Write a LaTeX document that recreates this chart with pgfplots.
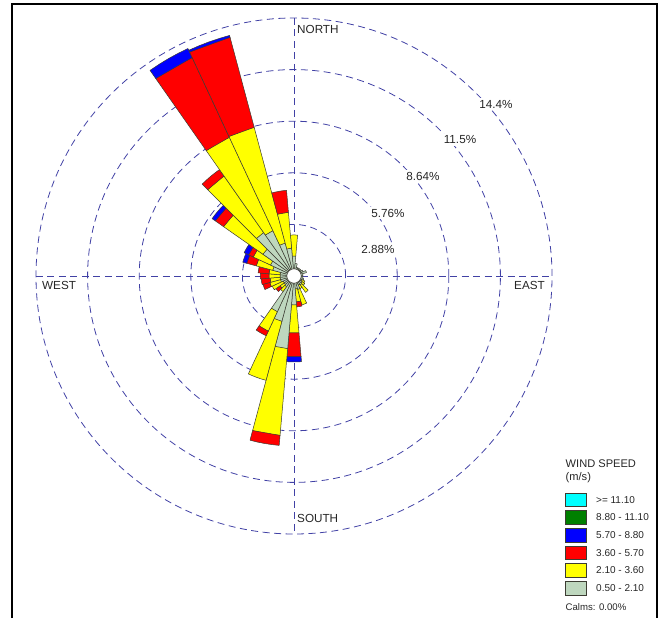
\documentclass[border=0pt]{standalone}
\usepackage{pgfplots}
\pgfplotsset{compat=1.18}
\usepackage{fontspec}
\setmainfont{Liberation Sans}
\definecolor{gridc}{RGB}{65,65,165}
\definecolor{calm}{RGB}{190,215,190}
\definecolor{dk}{RGB}{60,60,50}
\definecolor{wyellow}{RGB}{255,255,0}
\definecolor{wred}{RGB}{255,0,0}
\definecolor{wblue}{RGB}{0,0,255}
\definecolor{wcyan}{RGB}{0,255,255}
\definecolor{wgreen}{RGB}{0,128,0}
\colorlet{yellow}{wyellow}\colorlet{red}{wred}\colorlet{blue}{wblue}
\newcommand\wsec[4]{% bearing, inner %, outer %, colour
  \pgfmathsetmacro\aa{90-#1-5}\pgfmathsetmacro\ab{90-#1-2.5}\pgfmathsetmacro\ac{90-#1}%
  \pgfmathsetmacro\ad{90-#1+2.5}\pgfmathsetmacro\ae{90-#1+5}%
  \addplot[data cs=polar,draw=dk,line width=0.5pt,fill=#4,line join=round] coordinates
    {(\aa,#2)(\ae,#2)(\ae,#3)(\ad,#3)(\ac,#3)(\ab,#3)(\aa,#3)} -- cycle;}
\begin{document}
\begin{tikzpicture}
\useasboundingbox (0,0) rectangle (660pt,618pt);
\begin{axis}[at={(0,0)},anchor=south west,scale only axis,width=660pt,height=618pt,
  xmin=-16.409,xmax=20.427,ymin=-19.088,ymax=15.404,hide axis,clip=false]
\pgfplotsinvokeforeach{2.88,5.76,8.64,11.52,14.4}{
  \draw[gridc,line width=0.8pt,dash pattern=on 7pt off 4.5pt] (axis cs:0,0) circle [radius=#1];}
\draw[gridc,line width=0.9pt,dash pattern=on 7pt off 4.5pt] (axis cs:-14.4,0)--(axis cs:14.4,0);
\draw[gridc,line width=0.9pt,dash pattern=on 7pt off 4.5pt] (axis cs:0,14.4)--(axis cs:0,-14.4);
\wsec{0}{0}{1.12}{calm}\wsec{0}{1.12}{2.29}{yellow}
\wsec{10}{0}{0.70}{calm}\wsec{20}{0}{0.50}{calm}\wsec{30}{0}{0.50}{calm}
\wsec{40}{0}{0.50}{calm}\wsec{50}{0}{0.50}{calm}\wsec{60}{0}{0.56}{calm}
\wsec{70}{0}{0.72}{calm}\wsec{80}{0}{0.50}{calm}\wsec{90}{0}{0.50}{calm}
\wsec{100}{0}{0.50}{calm}\wsec{110}{0}{0.56}{calm}
\wsec{120}{0}{0.50}{calm}\wsec{120}{0.50}{0.67}{yellow}
\wsec{130}{0}{0.56}{calm}\wsec{130}{0.56}{0.73}{yellow}
\wsec{140}{0}{0.61}{calm}\wsec{140}{0.61}{1.12}{yellow}
\wsec{150}{0}{0.56}{calm}\wsec{150}{0.56}{0.78}{yellow}
\wsec{160}{0}{0.78}{calm}\wsec{160}{0.78}{1.67}{yellow}
\wsec{170}{0}{0.73}{calm}\wsec{170}{0.73}{1.45}{yellow}\wsec{170}{1.45}{1.73}{red}
\wsec{180}{0}{1.62}{calm}\wsec{180}{1.62}{3.18}{yellow}\wsec{180}{3.18}{4.52}{red}\wsec{180}{4.52}{4.80}{blue}
\wsec{190}{0}{4.07}{calm}\wsec{190}{4.07}{8.93}{yellow}\wsec{190}{8.93}{9.49}{red}
\wsec{200}{0}{2.62}{calm}\wsec{200}{2.62}{6.03}{yellow}
\wsec{210}{0}{2.20}{calm}\wsec{210}{2.20}{3.40}{yellow}\wsec{210}{3.40}{3.68}{red}
\wsec{220}{0}{0.73}{calm}\wsec{220}{0.73}{1.06}{yellow}
\wsec{230}{0}{0.67}{calm}\wsec{230}{0.67}{0.95}{yellow}\wsec{230}{0.95}{1.23}{red}
\wsec{240}{0}{0.67}{calm}\wsec{240}{0.67}{1.34}{yellow}
\wsec{250}{0}{0.78}{calm}\wsec{250}{0.78}{1.40}{yellow}\wsec{250}{1.40}{1.79}{red}
\wsec{260}{0}{0.78}{calm}\wsec{260}{0.78}{1.34}{yellow}\wsec{260}{1.34}{1.84}{red}
\wsec{270}{0}{0.78}{calm}\wsec{270}{0.78}{1.40}{yellow}\wsec{270}{1.40}{1.88}{red}
\wsec{280}{0}{0.78}{calm}\wsec{280}{0.78}{1.40}{yellow}\wsec{280}{1.40}{2.01}{red}
\wsec{290}{0}{1.23}{calm}\wsec{290}{1.23}{2.18}{yellow}\wsec{290}{2.18}{2.73}{red}\wsec{290}{2.73}{2.96}{blue}
\wsec{300}{0}{1.45}{calm}\wsec{300}{1.45}{2.51}{yellow}\wsec{300}{2.51}{2.79}{red}\wsec{300}{2.79}{3.07}{blue}
\wsec{310}{0}{2.12}{calm}\wsec{310}{2.12}{4.80}{yellow}\wsec{310}{4.80}{5.36}{red}\wsec{310}{5.36}{5.58}{blue}
\wsec{320}{0}{2.96}{calm}\wsec{320}{2.96}{6.81}{yellow}\wsec{320}{6.81}{7.25}{red}
\wsec{330}{0}{2.79}{calm}\wsec{330}{2.79}{8.54}{yellow}\wsec{330}{8.54}{13.45}{red}\wsec{330}{13.45}{14.01}{blue}
\wsec{340}{0}{1.90}{calm}\wsec{340}{1.90}{8.59}{yellow}\wsec{340}{8.59}{13.79}{red}\wsec{340}{13.79}{13.90}{blue}
\wsec{350}{0}{1.56}{calm}\wsec{350}{1.56}{3.57}{yellow}\wsec{350}{3.57}{4.80}{red}
\draw[dk,line width=0.5pt,fill=white] (axis cs:0,0) circle [radius=0.40];
\end{axis}
\begin{scope}[x=1pt,y=-1pt,shift={(0,618pt)}]
\draw[black,line width=2pt] (12,618)--(12,4)--(657,4)--(657,618);
\tikzset{lab/.style={font=\fontsize{11.7}{12}\selectfont,text=black!85,inner sep=0pt},
  rlab/.style={lab,fill=white,inner xsep=2pt,inner ysep=2pt}}
\node[lab,anchor=west] at (297,29) {NORTH};
\node[lab,anchor=west] at (297,518) {SOUTH};
\node[lab,anchor=west] at (42,285.5) {WEST};
\node[lab,anchor=west] at (514,285.5) {EAST};
\node[rlab] at (378,249) {2.88\%};
\node[rlab] at (388,213) {5.76\%};
\node[rlab] at (423,176) {8.64\%};
\node[rlab] at (460,140) {11.5\%};
\node[rlab] at (496,104) {14.4\%};
\node[anchor=west,inner sep=0pt,font=\fontsize{11.1}{12}\selectfont,text=black!85] at (565.5,464) {WIND SPEED};
\node[anchor=west,inner sep=0pt,font=\fontsize{11.1}{12}\selectfont,text=black!85] at (565.5,478) {(m/s)};
\foreach \y/\c/\t in {493/wcyan/>= 11.10,510.7/wgreen/8.80 - 11.10,528.4/wblue/5.70 - 8.80,546/wred/3.60 - 5.70,563.7/wyellow/2.10 - 3.60,581.4/calm/0.50 - 2.10}{
  \draw[dk,line width=0.8pt,fill=\c] (565.5,\y) rectangle ++(20.5,13.7);
  \node[anchor=west,inner sep=0pt,font=\fontsize{10}{11}\selectfont,text=black!85] at (596,\y+6.8) {\t};}
\node[anchor=west,inner sep=0pt,font=\fontsize{9.6}{10}\selectfont,text=black!85] at (565.5,607) {Calms: 0.00\%};
\end{scope}
\end{tikzpicture}
\end{document}
